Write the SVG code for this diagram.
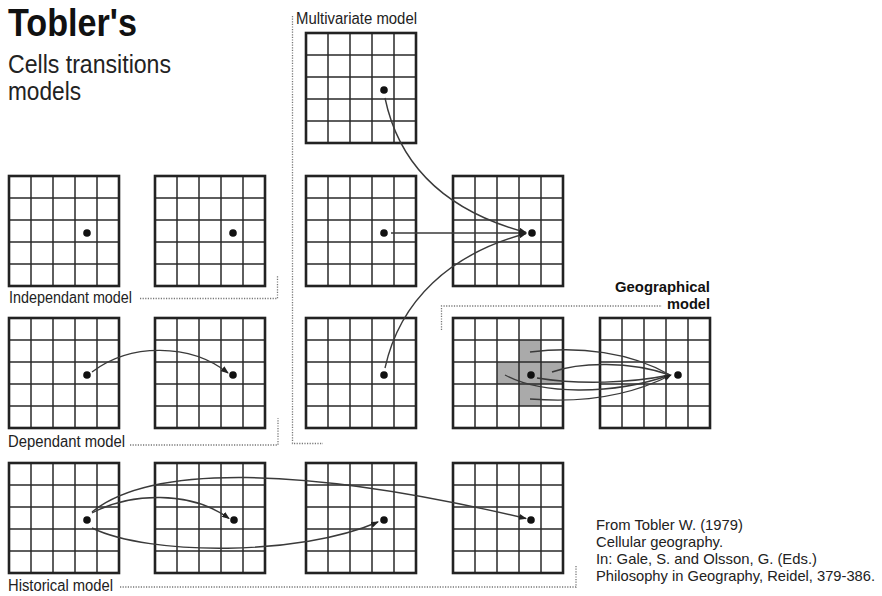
<svg xmlns="http://www.w3.org/2000/svg" xmlns:xlink="http://www.w3.org/1999/xlink" width="882" height="596" viewBox="0 0 882 596">
<style>
  text { font-family: "Liberation Sans Narrow", "Liberation Sans", Arial, sans-serif; fill: #222; }
  .title { font-size: 38px; font-weight: bold; fill: #111; }
  .sub { font-size: 26px; }
  .lbl { font-size: 16px; }
  .geo { font-size: 15.5px; font-weight: bold; fill: #111; }
  .cite { font-size: 15px; }
  .dot { fill: #111; }
  .sep { fill: none; stroke: #777; stroke-width: 1.3; stroke-dasharray: 1.2 1.4; }
  .con { fill: none; stroke: #3a3a3a; stroke-width: 1.4; }
  .arr { marker-end: url(#ah); }
</style>
<defs>
  <g id="grid">
    <path d="M22 0V110M44 0V110M66 0V110M88 0V110M0 22H110M0 44H110M0 66H110M0 88H110" fill="none" stroke="#2a2a2a" stroke-width="1.5"/>
    <rect x="0" y="0" width="110" height="110" fill="none" stroke="#222" stroke-width="2.6"/>
  </g>
  <marker id="ah" markerUnits="userSpaceOnUse" markerWidth="8" markerHeight="6" refX="7" refY="3" orient="auto">
    <path d="M0,0 L8,3 L0,6 z" fill="#222"/>
  </marker>
</defs>
<rect width="882" height="596" fill="#fff"/>

<g id="titles">
  <text class="title" x="8" y="36" textLength="129" lengthAdjust="spacingAndGlyphs">Tobler's</text>
  <text class="sub" x="8" y="73" textLength="163" lengthAdjust="spacingAndGlyphs">Cells transitions</text>
  <text class="sub" x="8" y="100" textLength="73" lengthAdjust="spacingAndGlyphs">models</text>
</g>

<g id="labels">
  <text class="lbl" x="9" y="303" textLength="123" lengthAdjust="spacingAndGlyphs">Independant model</text>
  <text class="lbl" x="8" y="447" textLength="117" lengthAdjust="spacingAndGlyphs">Dependant model</text>
  <text class="lbl" x="8" y="591" textLength="105" lengthAdjust="spacingAndGlyphs">Historical model</text>
  <text class="lbl" x="296" y="24" textLength="121" lengthAdjust="spacingAndGlyphs">Multivariate model</text>
  <text class="geo" x="710" y="292" text-anchor="end" textLength="95" lengthAdjust="spacingAndGlyphs">Geographical</text>
  <text class="geo" x="710" y="309" text-anchor="end" textLength="43" lengthAdjust="spacingAndGlyphs">model</text>
</g>

<g id="citation">
  <text class="cite" x="596" y="530" textLength="147" lengthAdjust="spacingAndGlyphs">From Tobler W. (1979)</text>
  <text class="cite" x="596" y="547" textLength="127" lengthAdjust="spacingAndGlyphs">Cellular geography.</text>
  <text class="cite" x="596" y="564" textLength="221" lengthAdjust="spacingAndGlyphs">In: Gale, S. and Olsson, G. (Eds.)</text>
  <text class="cite" x="596" y="581" textLength="279" lengthAdjust="spacingAndGlyphs">Philosophy in Geography, Reidel, 379-386.</text>
</g>

<g id="separators">
  <path class="sep" d="M140 298.5H277.5V276"/>
  <path class="sep" d="M130 445H278V418"/>
  <path class="sep" d="M292.5 16V443.5H323"/>
  <path class="sep" d="M441.5 330V306H662"/>
  <path class="sep" d="M120 587H576V565"/>
</g>

<g id="indep-1"><use xlink:href="#grid" x="9" y="176"/><circle class="dot" cx="87" cy="233" r="3.8"/></g>
<g id="indep-2"><use xlink:href="#grid" x="155" y="176"/><circle class="dot" cx="233" cy="233" r="3.8"/></g>

<g id="multi-top"><use xlink:href="#grid" x="306" y="33"/><circle class="dot" cx="384" cy="90" r="3.8"/></g>
<g id="multi-mid"><use xlink:href="#grid" x="306" y="176"/><circle class="dot" cx="384" cy="233" r="3.8"/></g>
<g id="multi-target"><use xlink:href="#grid" x="453" y="176"/><circle class="dot" cx="532" cy="233" r="3.8"/></g>
<g id="multi-bottom"><use xlink:href="#grid" x="306" y="318"/><circle class="dot" cx="384" cy="375" r="3.8"/></g>

<g id="dep-1"><use xlink:href="#grid" x="9" y="318"/><circle class="dot" cx="87" cy="375" r="3.8"/></g>
<g id="dep-2"><use xlink:href="#grid" x="155" y="318"/><circle class="dot" cx="233" cy="375" r="3.8"/></g>

<g id="geo-1">
  <path d="M519 340H541V362H563V384H541V406H519V384H497V362H519Z" fill="#aaa"/>
  <use xlink:href="#grid" x="453" y="318"/>
  <circle class="dot" cx="531" cy="375" r="3.8"/>
</g>
<g id="geo-2"><use xlink:href="#grid" x="600" y="318"/><circle class="dot" cx="678" cy="375" r="3.8"/></g>

<g id="hist-1"><use xlink:href="#grid" x="9" y="463"/><circle class="dot" cx="87" cy="520" r="3.8"/></g>
<g id="hist-2"><use xlink:href="#grid" x="155" y="463"/><circle class="dot" cx="234" cy="520" r="3.8"/></g>
<g id="hist-3"><use xlink:href="#grid" x="306" y="463"/><circle class="dot" cx="384" cy="520" r="3.8"/></g>
<g id="hist-4"><use xlink:href="#grid" x="453" y="463"/><circle class="dot" cx="531" cy="520" r="3.8"/></g>

<g id="connectors">
  <path class="con arr" d="M385 98 C400 170, 450 212, 526 232.5"/>
  <path class="con arr" d="M391 233 L526 233"/>
  <path class="con arr" d="M385 368 C400 300, 450 254, 526 233.5"/>

  <path class="con arr" d="M92 372 C130 343, 190 343, 228 373"/>

  <path class="con arr" d="M92 513 C130 493, 190 490, 229 518.5"/>
  <path class="con arr" d="M92 512 C150 465, 300 465, 526 518.5"/>
  <path class="con arr" d="M92 528 C150 556, 300 556, 378 522"/>

  <path class="con" d="M530 352 C580 346, 630 352, 670 375"/>
  <path class="con" d="M505 375 C540 394, 610 396, 670 375"/>
  <path class="con" d="M537 378 C580 385, 630 383, 670 375"/>
  <path class="con" d="M552 372 C580 362, 630 361, 670 375"/>
  <path class="con arr" d="M530 399 C580 403, 630 396, 671 375"/>
</g>
</svg>
